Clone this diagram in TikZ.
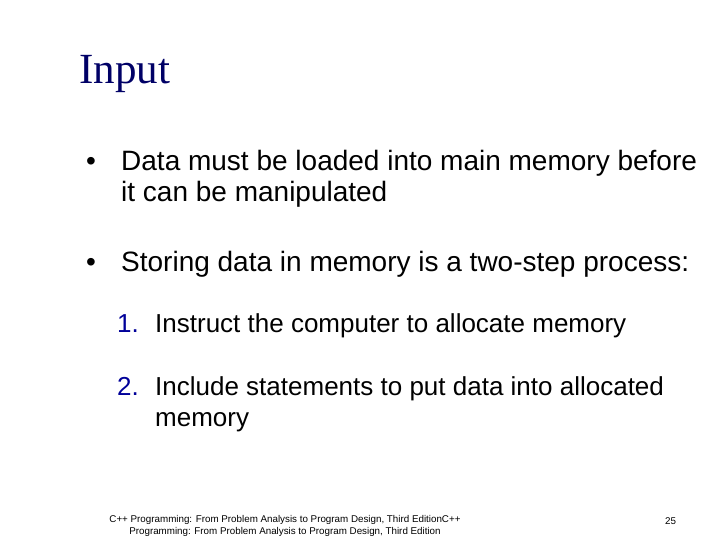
\documentclass[tikz,border=0pt]{standalone}
\usepackage{fontspec}
\setmainfont{Liberation Serif}
\setsansfont{Liberation Sans}
\definecolor{titleblue}{RGB}{0,0,102}
\definecolor{numblue}{RGB}{0,0,153}
\begin{document}
\begin{tikzpicture}[x=1pt,y=-1pt,
  every node/.style={inner sep=0pt,anchor=base west},
  body/.style={font=\sffamily\fontsize{28}{32}\selectfont},
  sub/.style={font=\sffamily\fontsize{26}{30}\selectfont},
  foot/.style={font=\sffamily\fontsize{9.8}{12}\selectfont}]
  \useasboundingbox (0,0) rectangle (720,540);
  \node[font=\fontsize{43}{47}\selectfont,text=titleblue] (title) at (79,84) {Input};
  % bullets
  \node[body] (b1) at (86,171) {•};
  \node[body] (l1) at (121,171) {Data must be loaded into main memory before};
  \node[body] (l2) at (121,202) {it can be manipulated};
  \node[body] (b2) at (86,271) {•};
  \node[body] (l3) at (121,271) {Storing data in memory is a two-step process:};
  % numbered items
  \node[sub,text=numblue] (n1) at (117,332) {1.};
  \node[sub] (s1) at (155,332) {Instruct the computer to allocate memory};
  \node[sub,text=numblue] (n2) at (117,395) {2.};
  \node[sub] (s2) at (155,395) {Include statements to put data into allocated};
  \node[sub] (s3) at (155,426) {memory};
  % footer
  \node[foot,anchor=north,align=center] (foot) at (285,515)
    {C++ Programming: From Problem Analysis to Program Design, Third EditionC++\\
     Programming: From Problem Analysis to Program Design, Third Edition};
  \node[foot] (page) at (665,524) {25};
\end{tikzpicture}
\end{document}
